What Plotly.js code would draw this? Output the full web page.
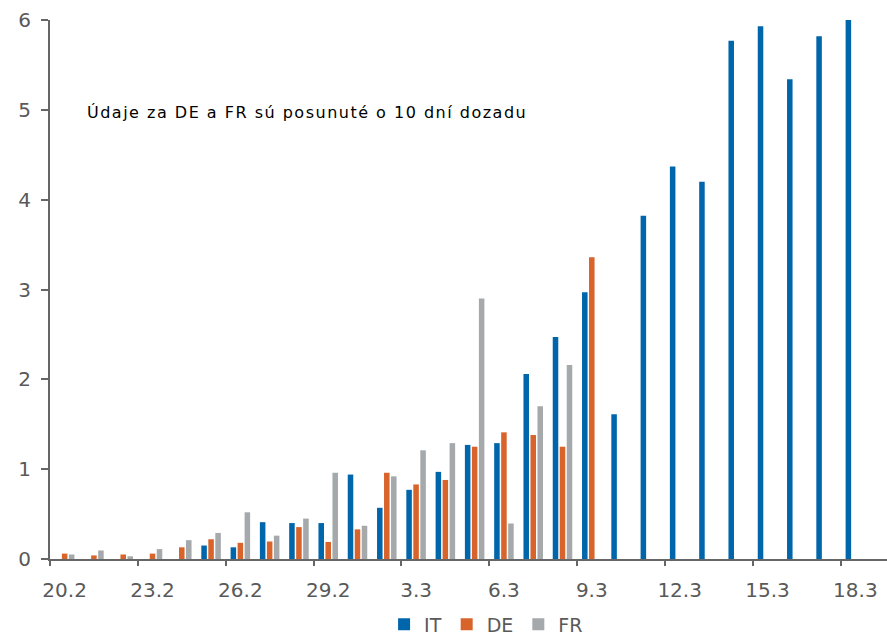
<!DOCTYPE html>
<html>
<head>
<meta charset="utf-8">
<script src="https://cdn.plot.ly/plotly-3.0.1.min.js"></script>
<style>html,body{margin:0;padding:0;background:#fff;}#chart{width:887px;height:637px;}
#chart .annotation-text{letter-spacing:1.5px;}</style>
</head>
<body>
<div id="chart"></div>
<script>
const categories = ["20.2","21.2","22.2","23.2","24.2","25.2","26.2","27.2","28.2","29.2",
  "1.3","2.3","3.3","4.3","5.3","6.3","7.3","8.3","9.3","10.3",
  "11.3","12.3","13.3","14.3","15.3","16.3","17.3","18.3"];
const itValues = [0,0,0,0,0,0.15,0.13,0.41,0.40,0.40,
  0.94,0.57,0.77,0.97,1.27,1.29,2.06,2.47,2.97,1.61,
  3.82,4.37,4.20,5.77,5.93,5.34,5.82,6.00];
const deValues = [0.06,0.04,0.05,0.06,0.13,0.22,0.18,0.195,0.355,0.19,
  0.33,0.96,0.83,0.88,1.25,1.41,1.38,1.25,3.36,null,
  null,null,null,null,null,null,null,null];
const frValues = [0.05,0.095,0.03,0.11,0.21,0.29,0.52,0.26,0.45,0.96,
  0.37,0.92,1.21,1.29,2.90,0.395,1.70,2.16,null,null,
  null,null,null,null,null,null,null,null];
const seriesNames = ["IT","DE","FR"];
const seriesColors = ["#0066ab","#d8632b","#a5a9ab"];
const tickLabels = ["20.2","23.2","26.2","29.2","3.3","6.3","9.3","12.3","15.3","18.3"];
const yTicks = [0,1,2,3,4,5,6];
const note = "Údaje za DE a FR sú posunuté o 10 dní dozadu";

const font = "DejaVu Sans, Verdana, sans-serif";
const allValues = [itValues, deValues, frValues];
const traces = allValues.map((vals, k) => ({
  type: "bar",
  name: seriesNames[k],
  x: categories,
  y: vals,
  marker: {color: seriesColors[k], line: {width: 0}},
  hoverinfo: "x+y+name"
}));

const xRange = [-0.5, 28.08];
// tick marks sit on the left boundary of each labelled category
const boundaryTicks = tickLabels.map(l => categories.indexOf(l) - 0.5);
// invisible helper trace so the overlaying tick axis is drawn
traces.push({
  type: "scatter", mode: "none", x: boundaryTicks, y: boundaryTicks.map(() => 0),
  xaxis: "x2", yaxis: "y", showlegend: false, hoverinfo: "skip"
});

const layout = {
  width: 887, height: 637,
  margin: {l: 50, r: 0, t: 20, b: 78, autoexpand: false},
  paper_bgcolor: "#fff", plot_bgcolor: "#fff",
  barmode: "group", bargap: 0.283, bargroupgap: 0.21,
  showlegend: true,
  legend: {orientation: "h", x: 0.521, xanchor: "center", y: -0.086, yanchor: "top",
    font: {family: font, size: 19, color: "#595959"}, itemwidth: 30, traceorder: "normal"},
  xaxis: {
    type: "category", range: xRange, tickmode: "array", tickvals: tickLabels, ticktext: tickLabels,
    tickangle: 0, ticks: "",
    showline: true, linecolor: "#666", linewidth: 2, showgrid: false, zeroline: false,
    tickfont: {family: font, size: 20, color: "#595959"}, ticklabelstandoff: 12, fixedrange: true
  },
  xaxis2: {
    type: "linear", overlaying: "x", anchor: "y", side: "bottom", range: xRange,
    tickmode: "array", tickvals: boundaryTicks, showticklabels: false,
    ticks: "outside", ticklen: 6, tickwidth: 2, tickcolor: "#666",
    showline: false, showgrid: false, zeroline: false, fixedrange: true
  },
  yaxis: {
    range: [0, 6], tickmode: "array", tickvals: yTicks, ticks: "outside", ticklen: 7, tickwidth: 2, tickcolor: "#666",
    showline: true, linecolor: "#666", linewidth: 2, showgrid: false, zeroline: false,
    tickfont: {family: font, size: 20, color: "#595959"}, ticklabelstandoff: 6, fixedrange: true
  },
  annotations: [{
    text: note, xref: "paper", yref: "paper", x: 0.3076, y: 0.828, xanchor: "center", yanchor: "middle",
    showarrow: false, font: {family: font, size: 16, color: "#000"}
  }]
};

Plotly.newPlot("chart", traces, layout, {displayModeBar: false, staticPlot: true});
</script>
</body>
</html>
